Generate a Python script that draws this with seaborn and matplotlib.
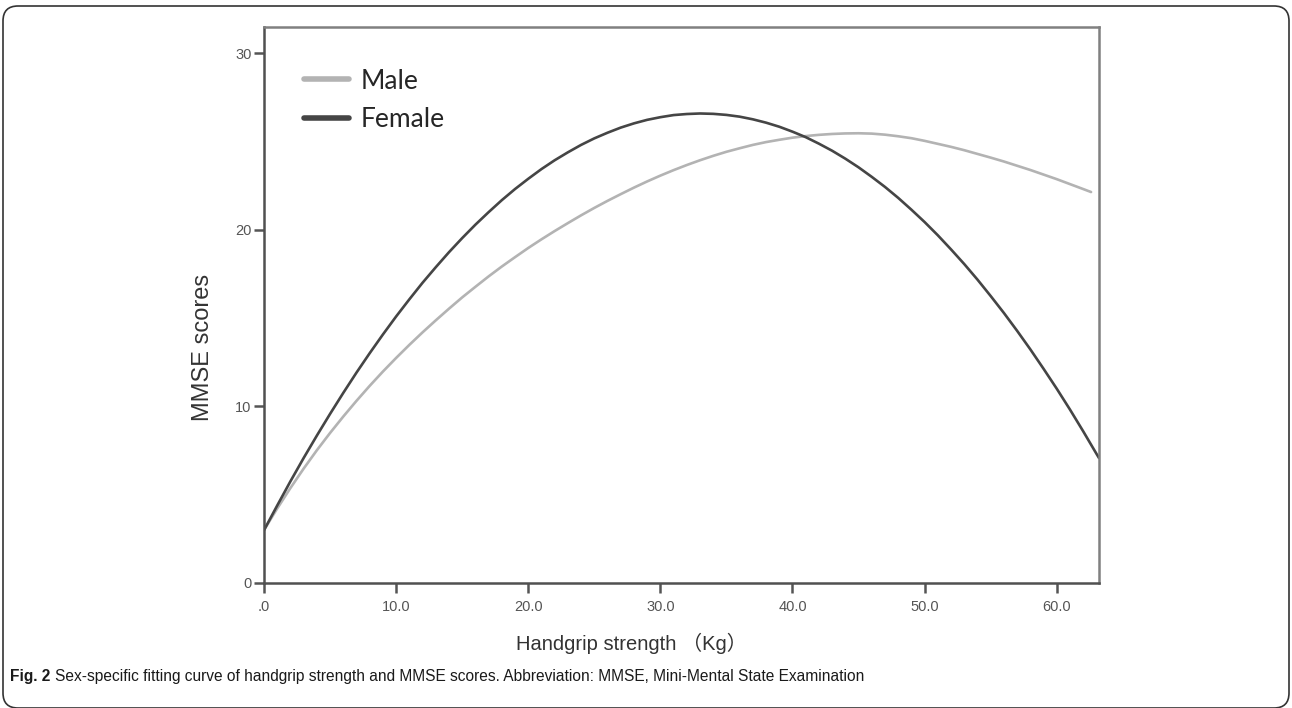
import numpy as np
import pandas as pd
import seaborn as sns
import matplotlib.pyplot as plt
from matplotlib.patches import FancyBboxPatch
import warnings
warnings.filterwarnings("ignore")

# values (fitted curves, read every 1 kg)
male_grip = list(range(0, 63)) + [62.6]
male_mmse = [3.00, 4.22, 5.38, 6.48, 7.52, 8.50, 9.43, 10.32, 11.17, 11.98,
             12.75, 13.49, 14.20, 14.88, 15.54, 16.18, 16.78, 17.37, 17.93, 18.46,
             18.98, 19.47, 19.94, 20.39, 20.83, 21.25, 21.65, 22.03, 22.40, 22.75,
             23.08, 23.39, 23.68, 23.95, 24.20, 24.43, 24.63, 24.82, 24.98, 25.11,
             25.23, 25.32, 25.39, 25.44, 25.47, 25.48, 25.46, 25.40, 25.31, 25.20,
             25.05, 24.88, 24.71, 24.52, 24.31, 24.10, 23.88, 23.64, 23.40, 23.14,
             22.88, 22.60, 22.32, 22.15]
female_grip = list(range(0, 64)) + [63.2]
female_mmse = [2.99, 4.39, 5.76, 7.08, 8.35, 9.58, 10.77, 11.92, 13.02, 14.08,
               15.10, 16.07, 17.01, 17.89, 18.74, 19.54, 20.30, 21.01, 21.69, 22.32,
               22.90, 23.45, 23.95, 24.40, 24.82, 25.19, 25.51, 25.80, 26.04, 26.24,
               26.39, 26.51, 26.57, 26.60, 26.58, 26.52, 26.42, 26.27, 26.08, 25.85,
               25.57, 25.26, 24.89, 24.49, 24.04, 23.55, 23.01, 22.44, 21.82, 21.15,
               20.45, 19.70, 18.90, 18.07, 17.19, 16.26, 15.30, 14.29, 13.24, 12.14,
               11.01, 9.83, 8.60, 7.33, 7.08]
x_ticks = [0, 10, 20, 30, 40, 50, 60]
x_ticklabels = ['.0', '10.0', '20.0', '30.0', '40.0', '50.0', '60.0']
y_ticks = [0, 10, 20, 30]

df = pd.concat([
    pd.DataFrame({'grip': male_grip, 'mmse': male_mmse, 'sex': 'Male'}),
    pd.DataFrame({'grip': female_grip, 'mmse': female_mmse, 'sex': 'Female'}),
])

sns.set_style('white')
plt.rcParams['font.family'] = ['Liberation Sans', 'DejaVu Sans']

fig = plt.figure(figsize=(12.92, 7.08), dpi=100)
ax = fig.add_axes([264 / 1292, 125 / 708, 835 / 1292, 556 / 708])

pal = {'Male': '#b3b3b3', 'Female': '#454545'}
sns.lineplot(data=df, x='grip', y='mmse', hue='sex', palette=pal, sort=False,
             estimator=None, linewidth=1.9, ax=ax, legend=False)

ax.set_xlim(0, 63.2)
ax.set_ylim(0, 31.5)
ax.set_xticks(x_ticks)
ax.set_xticklabels(x_ticklabels)
ax.set_yticks(y_ticks)
for side, s in ax.spines.items():
    s.set_color('#505050' if side in ('left', 'bottom') else '#808080')
    s.set_linewidth(1.8)
ax.tick_params(axis='both', direction='out', length=7, width=1.8, color='#555555',
               labelsize=10.5, labelcolor='#555555', bottom=True, left=True)
ax.tick_params(axis='x', pad=5)
ax.tick_params(axis='y', pad=2)

ax.set_xlabel('Handgrip strength （Kg）', fontsize=14.5, color='#333333',
              family=['Liberation Sans', 'Noto Sans CJK SC'])
ax.xaxis.set_label_coords(0.44, -0.09)
ax.set_ylabel('MMSE scores', fontsize=17, color='#333333')
ax.yaxis.set_label_coords(-0.06, 0.423)

# legend drawn from the plotted lines
lines = ax.get_lines()
leg = ax.legend(lines[:2], ['Male', 'Female'], loc='upper left',
                bbox_to_anchor=(0.019, 0.968), frameon=False,
                prop={'family': 'Lato', 'size': 19}, handlelength=1.72,
                handletextpad=0.45, labelspacing=0.52)
for h in leg.get_lines():
    h.set_linewidth(4)

# caption
t1 = fig.text(10 / 1292, 0.045, 'Fig. 2', fontsize=11.2, fontweight='bold',
              va='center', color='#1a1a1a')
fig.canvas.draw()
bb = t1.get_window_extent()
fig.text((bb.x1 + 5) / 1292, 0.045,
         'Sex-specific fitting curve of handgrip strength and MMSE scores. '
         'Abbreviation: MMSE, Mini-Mental State Examination',
         fontsize=11.2, va='center', color='#1a1a1a')

# rounded frame around the whole figure
frame = FancyBboxPatch((0.03, 0.0), 12.86, 7.02,
                       boxstyle='round,pad=0,rounding_size=0.15',
                       transform=fig.dpi_scale_trans, facecolor='none',
                       edgecolor='#333333', linewidth=1.2, clip_on=False)
fig.patches.append(frame)

plt.savefig('out.png', dpi=100)
